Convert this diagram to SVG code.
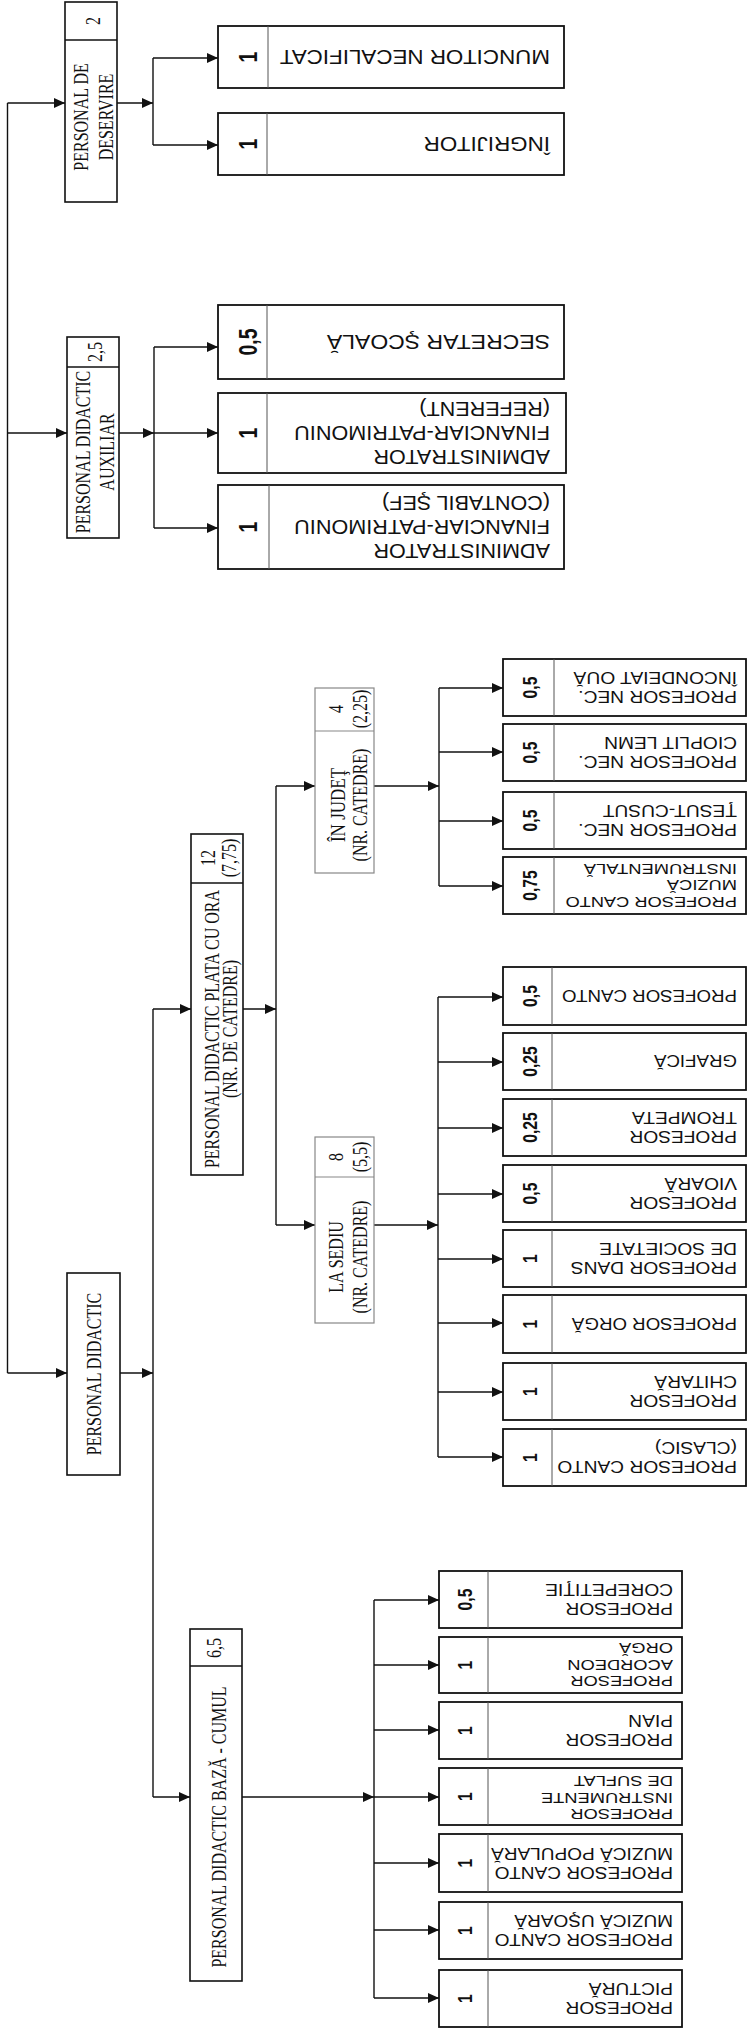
<svg xmlns="http://www.w3.org/2000/svg" width="747" height="2033" viewBox="0 0 747 2033">
<defs>
<marker id="ah" markerUnits="userSpaceOnUse" markerWidth="11" markerHeight="10" refX="11" refY="5" orient="auto">
<path d="M0,0 L11,5 L0,10 z" fill="#111"/>
</marker>
<style>
.c{stroke:#111;stroke-width:1.4;fill:none}
.a{stroke:#111;stroke-width:1.4;fill:none;marker-end:url(#ah)}
.hb{fill:#fff;stroke:#111;stroke-width:1.6}
.hbl{fill:#fff;stroke:#888;stroke-width:1.2}
.hd{stroke:#111;stroke-width:1.3}
.hdl{stroke:#888;stroke-width:1.1}
.h{font-family:"Liberation Serif","Times New Roman",serif;font-size:20px;text-anchor:middle;fill:#111}
.lf{fill:#fff;stroke:#111;stroke-width:1.8}
.dv{stroke:#555;stroke-width:1}
.nA{font-family:"Liberation Sans",Arial,sans-serif;font-weight:bold;font-size:26px;text-anchor:middle;fill:#111}
.nB{font-family:"Liberation Sans",Arial,sans-serif;font-weight:bold;font-size:21px;text-anchor:middle;fill:#111}
.tA{font-family:"Liberation Sans",Arial,sans-serif;font-size:20px;fill:#111}
.t1{font-family:"Liberation Sans",Arial,sans-serif;font-size:17px;fill:#111}
.t2{font-family:"Liberation Sans",Arial,sans-serif;font-size:16px;fill:#111}
.t3{font-family:"Liberation Sans",Arial,sans-serif;font-size:15px;fill:#111}
</style>
</defs>
<rect width="747" height="2033" fill="#fff"/>

<g id="connectors">
<path class="c" d="M7.5,103 V1373"/>
<path class="a" d="M7.5,103 H65"/>
<path class="a" d="M7.5,433 H67"/>
<path class="a" d="M7.5,1373 H67"/>
<path class="a" d="M117,103 H153"/>
<path class="c" d="M153,58 V145"/>
<path class="a" d="M153,58 H218"/>
<path class="a" d="M153,145 H218"/>
<path class="a" d="M119,433 H154"/>
<path class="c" d="M154,347 V528"/>
<path class="a" d="M154,347 H218"/>
<path class="a" d="M154,433 H218"/>
<path class="a" d="M154,528 H218"/>
<path class="a" d="M120,1373 H153"/>
<path class="c" d="M153,1009 V1797"/>
<path class="a" d="M153,1009 H191"/>
<path class="a" d="M153,1797 H190"/>
<path class="a" d="M243,1009 H276"/>
<path class="c" d="M276,786 V1225"/>
<path class="a" d="M276,786 H315"/>
<path class="a" d="M276,1225 H315"/>
<path class="a" d="M374,786 H439"/>
<path class="c" d="M439,688 V886"/>
<path class="a" d="M439,688 H503"/>
<path class="a" d="M439,752 H503"/>
<path class="a" d="M439,821 H503"/>
<path class="a" d="M439,886 H503"/>
<path class="a" d="M374,1225 H438"/>
<path class="c" d="M438,997 V1457"/>
<path class="a" d="M438,997 H503"/>
<path class="a" d="M438,1062 H503"/>
<path class="a" d="M438,1128 H503"/>
<path class="a" d="M438,1194 H503"/>
<path class="a" d="M438,1259 H503"/>
<path class="a" d="M438,1323 H503"/>
<path class="a" d="M438,1392 H503"/>
<path class="a" d="M438,1457 H503"/>
<path class="a" d="M242,1797 H374"/>
<path class="c" d="M374,1600 V1998"/>
<path class="a" d="M374,1600 H439"/>
<path class="a" d="M374,1665 H439"/>
<path class="a" d="M374,1730 H439"/>
<path class="a" d="M374,1797 H439"/>
<path class="a" d="M374,1863 H439"/>
<path class="a" d="M374,1930 H439"/>
<path class="a" d="M374,1998 H439"/>
</g>

<g id="personal-deservire">
<rect class="hb" x="65" y="2" width="52" height="200"/>
<line class="hd" x1="65" y1="40" x2="117" y2="40"/>
<text class="h" transform="translate(100,21) rotate(-90) scale(0.8,1)">2</text>
<text class="h" transform="translate(88,117) rotate(-90) scale(0.8,1)">PERSONAL DE</text>
<text class="h" transform="translate(113,117) rotate(-90) scale(0.8,1)">DESERVIRE</text>
</g>

<g id="personal-auxiliar">
<rect class="hb" x="67" y="337" width="52" height="201"/>
<line class="hd" x1="67" y1="367" x2="119" y2="367"/>
<text class="h" transform="translate(102,352) rotate(-90) scale(0.8,1)">2,5</text>
<text class="h" transform="translate(90,452) rotate(-90) scale(0.8,1)">PERSONAL DIDACTIC</text>
<text class="h" transform="translate(114,452) rotate(-90) scale(0.8,1)">AUXILIAR</text>
</g>

<g id="personal-didactic">
<rect class="hb" x="67" y="1273" width="53" height="202"/>
<text class="h" transform="translate(101,1374) rotate(-90) scale(0.8,1)">PERSONAL DIDACTIC</text>
</g>

<g id="plata-cu-ora">
<rect class="hb" x="191" y="834" width="52" height="341"/>
<line class="hd" x1="191" y1="883" x2="243" y2="883"/>
<text class="h" transform="translate(215,858) rotate(-90) scale(0.8,1)">12</text>
<text class="h" transform="translate(236,858) rotate(-90) scale(0.8,1)">(7,75)</text>
<text class="h" transform="translate(219,1029) rotate(-90) scale(0.8,1)">PERSONAL DIDACTIC PLATA CU ORA</text>
<text class="h" transform="translate(237,1029) rotate(-90) scale(0.8,1)">(NR. DE CATEDRE)</text>
</g>

<g id="in-judet">
<rect class="hbl" x="315" y="688" width="59" height="185"/>
<line class="hdl" x1="315" y1="731" x2="374" y2="731"/>
<text class="h" transform="translate(343,709) rotate(-90) scale(0.8,1)">4</text>
<text class="h" transform="translate(367,709) rotate(-90) scale(0.8,1)">(2,25)</text>
<text class="h" transform="translate(345,805) rotate(-90) scale(0.85,1)">ÎN JUDEŢ</text>
<text class="h" transform="translate(367,805) rotate(-90) scale(0.8,1)">(NR. CATEDRE)</text>
</g>

<g id="la-sediu">
<rect class="hbl" x="315" y="1137" width="59" height="186"/>
<line class="hdl" x1="315" y1="1177" x2="374" y2="1177"/>
<text class="h" transform="translate(343,1157) rotate(-90) scale(0.8,1)">8</text>
<text class="h" transform="translate(367,1157) rotate(-90) scale(0.8,1)">(5,5)</text>
<text class="h" transform="translate(343,1257) rotate(-90) scale(0.8,1)">LA SEDIU</text>
<text class="h" transform="translate(367,1257) rotate(-90) scale(0.8,1)">(NR. CATEDRE)</text>
</g>

<g id="baza-cumul">
<rect class="hb" x="190" y="1629" width="52" height="352"/>
<line class="hd" x1="190" y1="1666" x2="242" y2="1666"/>
<text class="h" transform="translate(221,1648) rotate(-90) scale(0.8,1)">6,5</text>
<text class="h" transform="translate(226,1827) rotate(-90) scale(0.8,1)">PERSONAL DIDACTIC BAZĂ - CUMUL</text>
</g>

<!-- group A leaves -->
<g id="muncitor">
<rect class="lf" x="218" y="26" width="346" height="62"/>
<line class="dv" x1="268" y1="26" x2="268" y2="88"/>
<text class="nA" transform="translate(256.5,57) rotate(-90) scale(0.75,1)">1</text>
<g transform="translate(550,57) rotate(180) scale(1.12,1)"><text class="tA"><tspan x="0" y="7.15">MUNCITOR NECALIFICAT</tspan></text></g>
</g>
<g id="ingrijitor">
<rect class="lf" x="218" y="113" width="346" height="62"/>
<line class="dv" x1="267" y1="113" x2="267" y2="175"/>
<text class="nA" transform="translate(256.5,144) rotate(-90) scale(0.75,1)">1</text>
<g transform="translate(550,144) rotate(180) scale(1.12,1)"><text class="tA"><tspan x="0" y="7.15">ÎNGRIJITOR</tspan></text></g>
</g>
<g id="secretar">
<rect class="lf" x="218" y="305" width="346" height="74"/>
<line class="dv" x1="267" y1="305" x2="267" y2="379"/>
<text class="nA" transform="translate(256.5,342) rotate(-90) scale(0.75,1)">0,5</text>
<g transform="translate(550,342) rotate(180) scale(1.15,1)"><text class="tA"><tspan x="0" y="7.15">SECRETAR ŞCOALĂ</tspan></text></g>
</g>
<g id="admin-referent">
<rect class="lf" x="218" y="393" width="348" height="80"/>
<line class="dv" x1="267" y1="393" x2="267" y2="473"/>
<text class="nA" transform="translate(256.5,433) rotate(-90) scale(0.75,1)">1</text>
<g transform="translate(550,433) rotate(180) scale(1.08,1)"><text class="tA"><tspan x="0" y="-16.85">ADMINISTRATOR</tspan><tspan x="0" y="7.15">FINANCIAR-PATRIMONIU</tspan><tspan x="0" y="31.15">(REFERENT)</tspan></text></g>
</g>
<g id="admin-contabil">
<rect class="lf" x="218" y="485" width="346" height="84"/>
<line class="dv" x1="269" y1="485" x2="269" y2="569"/>
<text class="nA" transform="translate(256.5,527) rotate(-90) scale(0.75,1)">1</text>
<g transform="translate(550,527) rotate(180) scale(1.08,1)"><text class="tA"><tspan x="0" y="-16.85">ADMINISTRATOR</tspan><tspan x="0" y="7.15">FINANCIAR-PATRIMONIU</tspan><tspan x="0" y="31.15">(CONTABIL ŞEF)</tspan></text></g>
</g>

<!-- group B leaves: in judet -->
<g id="nec-oua">
<rect class="lf" x="503" y="659" width="243" height="57"/>
<line class="dv" x1="554" y1="659" x2="554" y2="716"/>
<text class="nB" transform="translate(537,687.5) rotate(-90) scale(0.75,1)">0,5</text>
<g transform="translate(737,687.5) rotate(180) scale(1.2,1)"><text class="t2"><tspan x="0" y="-3.75">PROFESOR NEC.</tspan><tspan x="0" y="15.25">ÎNCONDEIAT OUĂ</tspan></text></g>
</g>
<g id="nec-lemn">
<rect class="lf" x="503" y="724" width="243" height="57"/>
<line class="dv" x1="554" y1="724" x2="554" y2="781"/>
<text class="nB" transform="translate(537,752.5) rotate(-90) scale(0.75,1)">0,5</text>
<g transform="translate(737,752.5) rotate(180) scale(1.2,1)"><text class="t2"><tspan x="0" y="-3.75">PROFESOR NEC.</tspan><tspan x="0" y="15.25">CIOPLIT LEMN</tspan></text></g>
</g>
<g id="nec-tesut">
<rect class="lf" x="503" y="792" width="243" height="57"/>
<line class="dv" x1="554" y1="792" x2="554" y2="849"/>
<text class="nB" transform="translate(537,820.5) rotate(-90) scale(0.75,1)">0,5</text>
<g transform="translate(737,820.5) rotate(180) scale(1.2,1)"><text class="t2"><tspan x="0" y="-3.75">PROFESOR NEC.</tspan><tspan x="0" y="15.25">ŢESUT-CUSUT</tspan></text></g>
</g>
<g id="canto-instrumentala">
<rect class="lf" x="503" y="857" width="243" height="57"/>
<line class="dv" x1="554" y1="857" x2="554" y2="914"/>
<text class="nB" transform="translate(537,885.5) rotate(-90) scale(0.75,1)">0,75</text>
<g transform="translate(737,885.5) rotate(180) scale(1.22,1)"><text class="t3"><tspan x="0" y="-11.15">PROFESOR CANTO</tspan><tspan x="0" y="5.35">MUZICĂ</tspan><tspan x="0" y="21.85">INSTRUMENTALĂ</tspan></text></g>
</g>

<!-- group B leaves: la sediu -->
<g id="sediu-canto">
<rect class="lf" x="503" y="967" width="243" height="58"/>
<line class="dv" x1="552" y1="967" x2="552" y2="1025"/>
<text class="nB" transform="translate(537,996) rotate(-90) scale(0.75,1)">0,5</text>
<g transform="translate(737,996) rotate(180) scale(1.1,1)"><text class="t1"><tspan x="0" y="6.1">PROFESOR CANTO</tspan></text></g>
</g>
<g id="sediu-grafica">
<rect class="lf" x="503" y="1033" width="243" height="57"/>
<line class="dv" x1="552" y1="1033" x2="552" y2="1090"/>
<text class="nB" transform="translate(537,1061.5) rotate(-90) scale(0.75,1)">0,25</text>
<g transform="translate(737,1061.5) rotate(180) scale(1.1,1)"><text class="t1"><tspan x="0" y="6.1">GRAFICĂ</tspan></text></g>
</g>
<g id="sediu-trompeta">
<rect class="lf" x="503" y="1099" width="243" height="57"/>
<line class="dv" x1="552" y1="1099" x2="552" y2="1156"/>
<text class="nB" transform="translate(537,1127.5) rotate(-90) scale(0.75,1)">0,25</text>
<g transform="translate(737,1127.5) rotate(180) scale(1.2,1)"><text class="t2"><tspan x="0" y="-3.75">PROFESOR</tspan><tspan x="0" y="15.25">TROMPETA</tspan></text></g>
</g>
<g id="sediu-vioara">
<rect class="lf" x="503" y="1165" width="243" height="57"/>
<line class="dv" x1="552" y1="1165" x2="552" y2="1222"/>
<text class="nB" transform="translate(537,1193.5) rotate(-90) scale(0.75,1)">0,5</text>
<g transform="translate(737,1193.5) rotate(180) scale(1.2,1)"><text class="t2"><tspan x="0" y="-3.75">PROFESOR</tspan><tspan x="0" y="15.25">VIOARĂ</tspan></text></g>
</g>
<g id="sediu-dans">
<rect class="lf" x="503" y="1230" width="243" height="57"/>
<line class="dv" x1="552" y1="1230" x2="552" y2="1287"/>
<text class="nB" transform="translate(537,1258.5) rotate(-90) scale(0.75,1)">1</text>
<g transform="translate(737,1258.5) rotate(180) scale(1.2,1)"><text class="t2"><tspan x="0" y="-3.75">PROFESOR DANS</tspan><tspan x="0" y="15.25">DE SOCIETATE</tspan></text></g>
</g>
<g id="sediu-orga">
<rect class="lf" x="503" y="1295" width="243" height="58"/>
<line class="dv" x1="552" y1="1295" x2="552" y2="1353"/>
<text class="nB" transform="translate(537,1324) rotate(-90) scale(0.75,1)">1</text>
<g transform="translate(737,1324) rotate(180) scale(1.1,1)"><text class="t1"><tspan x="0" y="6.1">PROFESOR ORGĂ</tspan></text></g>
</g>
<g id="sediu-chitara">
<rect class="lf" x="503" y="1363" width="243" height="57"/>
<line class="dv" x1="552" y1="1363" x2="552" y2="1420"/>
<text class="nB" transform="translate(537,1391.5) rotate(-90) scale(0.75,1)">1</text>
<g transform="translate(737,1391.5) rotate(180) scale(1.2,1)"><text class="t2"><tspan x="0" y="-3.75">PROFESOR</tspan><tspan x="0" y="15.25">CHITARĂ</tspan></text></g>
</g>
<g id="sediu-canto-clasic">
<rect class="lf" x="503" y="1429" width="243" height="57"/>
<line class="dv" x1="552" y1="1429" x2="552" y2="1486"/>
<text class="nB" transform="translate(537,1457.5) rotate(-90) scale(0.75,1)">1</text>
<g transform="translate(737,1457.5) rotate(180) scale(1.2,1)"><text class="t2"><tspan x="0" y="-3.75">PROFESOR CANTO</tspan><tspan x="0" y="15.25">(CLASIC)</tspan></text></g>
</g>

<!-- group C leaves: baza -->
<g id="baza-corepetitie">
<rect class="lf" x="439" y="1571" width="243" height="57"/>
<line class="dv" x1="488" y1="1571" x2="488" y2="1628"/>
<text class="nB" transform="translate(471.5,1599.5) rotate(-90) scale(0.75,1)">0,5</text>
<g transform="translate(673,1599.5) rotate(180) scale(1.2,1)"><text class="t2"><tspan x="0" y="-3.75">PROFESOR</tspan><tspan x="0" y="15.25">COREPETIŢIE</tspan></text></g>
</g>
<g id="baza-acordeon">
<rect class="lf" x="439" y="1637" width="243" height="56"/>
<line class="dv" x1="488" y1="1637" x2="488" y2="1693"/>
<text class="nB" transform="translate(471.5,1665) rotate(-90) scale(0.75,1)">1</text>
<g transform="translate(673,1665) rotate(180) scale(1.22,1)"><text class="t3"><tspan x="0" y="-11.15">PROFESOR</tspan><tspan x="0" y="5.35">ACORDEON</tspan><tspan x="0" y="21.85">ORGĂ</tspan></text></g>
</g>
<g id="baza-pian">
<rect class="lf" x="439" y="1702" width="243" height="57"/>
<line class="dv" x1="488" y1="1702" x2="488" y2="1759"/>
<text class="nB" transform="translate(471.5,1730.5) rotate(-90) scale(0.75,1)">1</text>
<g transform="translate(673,1730.5) rotate(180) scale(1.2,1)"><text class="t2"><tspan x="0" y="-3.75">PROFESOR</tspan><tspan x="0" y="15.25">PIAN</tspan></text></g>
</g>
<g id="baza-suflat">
<rect class="lf" x="439" y="1768" width="243" height="57"/>
<line class="dv" x1="488" y1="1768" x2="488" y2="1825"/>
<text class="nB" transform="translate(471.5,1796.5) rotate(-90) scale(0.75,1)">1</text>
<g transform="translate(673,1798) rotate(180) scale(1.22,1)"><text class="t3"><tspan x="0" y="-11.15">PROFESOR</tspan><tspan x="0" y="5.35">INSTRUMENTE</tspan><tspan x="0" y="21.85">DE SUFLAT</tspan></text></g>
</g>
<g id="baza-populara">
<rect class="lf" x="439" y="1834" width="243" height="58"/>
<line class="dv" x1="488" y1="1834" x2="488" y2="1892"/>
<text class="nB" transform="translate(471.5,1863) rotate(-90) scale(0.75,1)">1</text>
<g transform="translate(673,1863) rotate(180) scale(1.19,1)"><text class="t2"><tspan x="0" y="-3.75">PROFESOR CANTO</tspan><tspan x="0" y="15.25">MUZICĂ POPULARĂ</tspan></text></g>
</g>
<g id="baza-usoara">
<rect class="lf" x="439" y="1902" width="243" height="57"/>
<line class="dv" x1="488" y1="1902" x2="488" y2="1959"/>
<text class="nB" transform="translate(471.5,1930.5) rotate(-90) scale(0.75,1)">1</text>
<g transform="translate(673,1930.5) rotate(180) scale(1.19,1)"><text class="t2"><tspan x="0" y="-3.75">PROFESOR CANTO</tspan><tspan x="0" y="15.25">MUZICĂ UŞOARĂ</tspan></text></g>
</g>
<g id="baza-pictura">
<rect class="lf" x="439" y="1970" width="243" height="57"/>
<line class="dv" x1="488" y1="1970" x2="488" y2="2027"/>
<text class="nB" transform="translate(471.5,1998.5) rotate(-90) scale(0.75,1)">1</text>
<g transform="translate(673,1998.5) rotate(180) scale(1.2,1)"><text class="t2"><tspan x="0" y="-3.75">PROFESOR</tspan><tspan x="0" y="15.25">PICTURĂ</tspan></text></g>
</g>
</svg>
